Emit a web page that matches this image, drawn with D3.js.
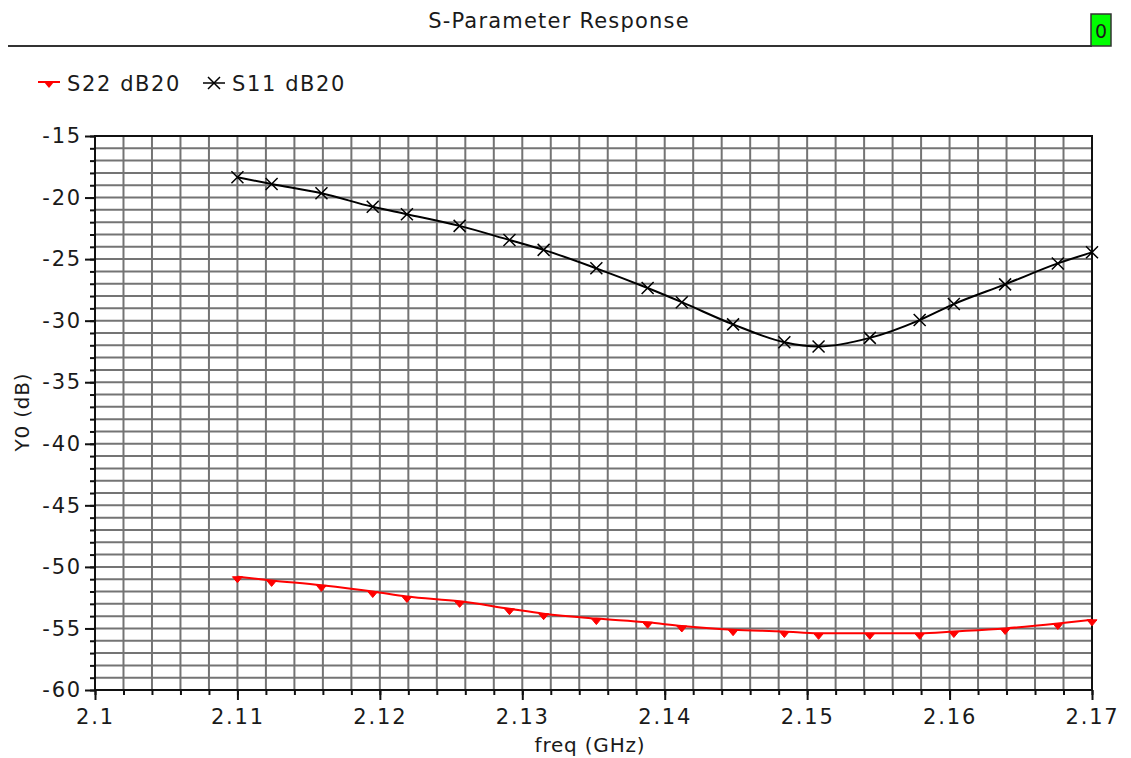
<!DOCTYPE html>
<html lang="en">
<head>
<meta charset="UTF-8">
<title>S-Parameter Response</title>
<script src="https://d3js.org/d3.v7.min.js"></script>
<style>
  body { margin: 0; background: #fff; }
  text { font-family: "DejaVu Sans", sans-serif; fill: #1a1a1a; }
</style>
</head>
<body>
<div id="chart"></div>
<script>
// frequencies (GHz) where markers sit
const freq = [2.11, 2.1124, 2.1159, 2.1195, 2.1219, 2.1256, 2.1291, 2.1315, 2.1352, 2.1388,
              2.1412, 2.1448, 2.1484, 2.1508, 2.1544, 2.1579, 2.1603, 2.1639, 2.1676, 2.17];
const s11 = [-18.35, -18.9, -19.65, -20.75, -21.35, -22.3, -23.45, -24.25, -25.75, -27.35,
             -28.5, -30.3, -31.75, -32.1, -31.4, -29.95, -28.65, -27.05, -25.35, -24.45];
const s22 = [-50.8, -51.1, -51.5, -52.0, -52.4, -52.8, -53.4, -53.8, -54.2, -54.5,
             -54.8, -55.1, -55.25, -55.4, -55.4, -55.4, -55.25, -55.0, -54.6, -54.3];
const xTicks = [2.1, 2.11, 2.12, 2.13, 2.14, 2.15, 2.16, 2.17];
const yTicks = [-15, -20, -25, -30, -35, -40, -45, -50, -55, -60];

const W = 1131, H = 758;
const m = { left: 95, right: 1092, top: 136, bottom: 690 };

const svg = d3.select("#chart").append("svg")
  .attr("width", W).attr("height", H);

const x = d3.scaleLinear().domain([2.1, 2.17]).range([m.left, m.right]);
const y = d3.scaleLinear().domain([-60, -15]).range([m.bottom, m.top]);

// title + header line + green box
svg.append("text").attr("x", 559).attr("y", 28).attr("text-anchor", "middle")
  .style("font-size", "21px").style("letter-spacing", "1.2px").text("S-Parameter Response");
svg.append("line").attr("x1", 8).attr("x2", 1092).attr("y1", 46).attr("y2", 46)
  .attr("stroke", "#333").attr("stroke-width", 2);
svg.append("rect").attr("x", 1091).attr("y", 14).attr("width", 20).attr("height", 32)
  .attr("fill", "#00ff00").attr("stroke", "#333").attr("stroke-width", 1.5);
svg.append("text").attr("x", 1101).attr("y", 38).attr("text-anchor", "middle")
  .style("font-size", "19px").text("0");

// grid
const grid = svg.append("g").attr("stroke", "#747474").attr("stroke-width", 2);
grid.selectAll(".gx").data(d3.range(1, 35)).join("line")
  .attr("x1", i => x(2.1 + i * 0.002)).attr("x2", i => x(2.1 + i * 0.002))
  .attr("y1", m.top).attr("y2", m.bottom);
grid.selectAll(".gy").data(d3.range(1, 45)).join("line")
  .attr("y1", i => y(-60 + i)).attr("y2", i => y(-60 + i))
  .attr("x1", m.left).attr("x2", m.right);

// frame
svg.append("rect").attr("x", m.left).attr("y", m.top)
  .attr("width", m.right - m.left).attr("height", m.bottom - m.top)
  .attr("fill", "none").attr("stroke", "#111").attr("stroke-width", 2);

// axes
const xAxis = d3.axisBottom(x).tickValues(xTicks).tickFormat(d3.format("")).tickSize(10).tickPadding(9);
const xMinor = d3.axisBottom(x).tickValues(d3.range(0, 36).map(i => 2.1 + i * 0.002)).tickFormat("").tickSize(5);
const yAxis = d3.axisLeft(y).tickValues(yTicks).tickFormat(d => d3.format("")(d).replace("−", "-")).tickSize(10).tickPadding(3);
const yMinor = d3.axisLeft(y).tickValues(d3.range(-60, -14)).tickFormat("").tickSize(5);

[xMinor, xAxis].forEach(a => {
  const g = svg.append("g").attr("transform", `translate(0,${m.bottom})`).call(a);
  g.select(".domain").remove();
  g.selectAll("line").attr("stroke", "#111").attr("stroke-width", 2);
  g.selectAll("text").style("font-size", "21px").style("letter-spacing", "1.8px").attr("fill", "#1a1a1a");
});
[yMinor, yAxis].forEach(a => {
  const g = svg.append("g").attr("transform", `translate(${m.left},0)`).call(a);
  g.select(".domain").remove();
  g.selectAll("line").attr("stroke", "#111").attr("stroke-width", 2);
  g.selectAll("text").style("font-size", "21px").style("letter-spacing", "1.8px").attr("fill", "#1a1a1a");
});

// axis titles
svg.append("text").attr("x", 590).attr("y", 752).attr("text-anchor", "middle")
  .style("font-size", "20px").style("letter-spacing", "0.8px").text("freq (GHz)");
svg.append("text").attr("transform", "translate(29,412) rotate(-90)").attr("text-anchor", "middle")
  .style("font-size", "20px").style("letter-spacing", "0.8px").text("Y0 (dB)");

// series
const line = d3.line().x(d => x(d[0])).y(d => y(d[1])).curve(d3.curveMonotoneX);
const d11 = freq.map((f, i) => [f, s11[i]]);
const d22 = freq.map((f, i) => [f, s22[i]]);

svg.append("path").attr("d", line(d22)).attr("fill", "none").attr("stroke", "#ff0000").attr("stroke-width", 2);
svg.append("path").attr("d", line(d11)).attr("fill", "none").attr("stroke", "#000").attr("stroke-width", 2);

const tri = (cx, cy) => `M${cx - 5},${cy} L${cx + 5},${cy} L${cx},${cy + 6} Z`;
const cross = (cx, cy) => `M${cx - 6},${cy - 6} L${cx + 6},${cy + 6} M${cx - 6},${cy + 6} L${cx + 6},${cy - 6}`;

svg.append("g").selectAll("path").data(d22).join("path")
  .attr("d", d => tri(x(d[0]), y(d[1]))).attr("fill", "#ff0000").attr("stroke", "#ff0000").attr("stroke-width", 1);
svg.append("g").selectAll("path").data(d11).join("path")
  .attr("d", d => cross(x(d[0]), y(d[1]))).attr("fill", "none").attr("stroke", "#000").attr("stroke-width", 1.5);

// legend
const lg = svg.append("g");
lg.append("line").attr("x1", 38).attr("x2", 60).attr("y1", 82).attr("y2", 82).attr("stroke", "#ff0000").attr("stroke-width", 2);
lg.append("path").attr("d", tri(49, 82)).attr("fill", "#ff0000");
lg.append("text").attr("x", 67).attr("y", 91).style("font-size", "21px").style("letter-spacing", "1.6px").text("S22 dB20");
lg.append("line").attr("x1", 203).attr("x2", 225).attr("y1", 83).attr("y2", 83).attr("stroke", "#000").attr("stroke-width", 1.5);
lg.append("path").attr("d", cross(214, 83)).attr("stroke", "#000").attr("stroke-width", 1.5);
lg.append("text").attr("x", 232).attr("y", 91).style("font-size", "21px").style("letter-spacing", "1.6px").text("S11 dB20");
</script>
</body>
</html>
